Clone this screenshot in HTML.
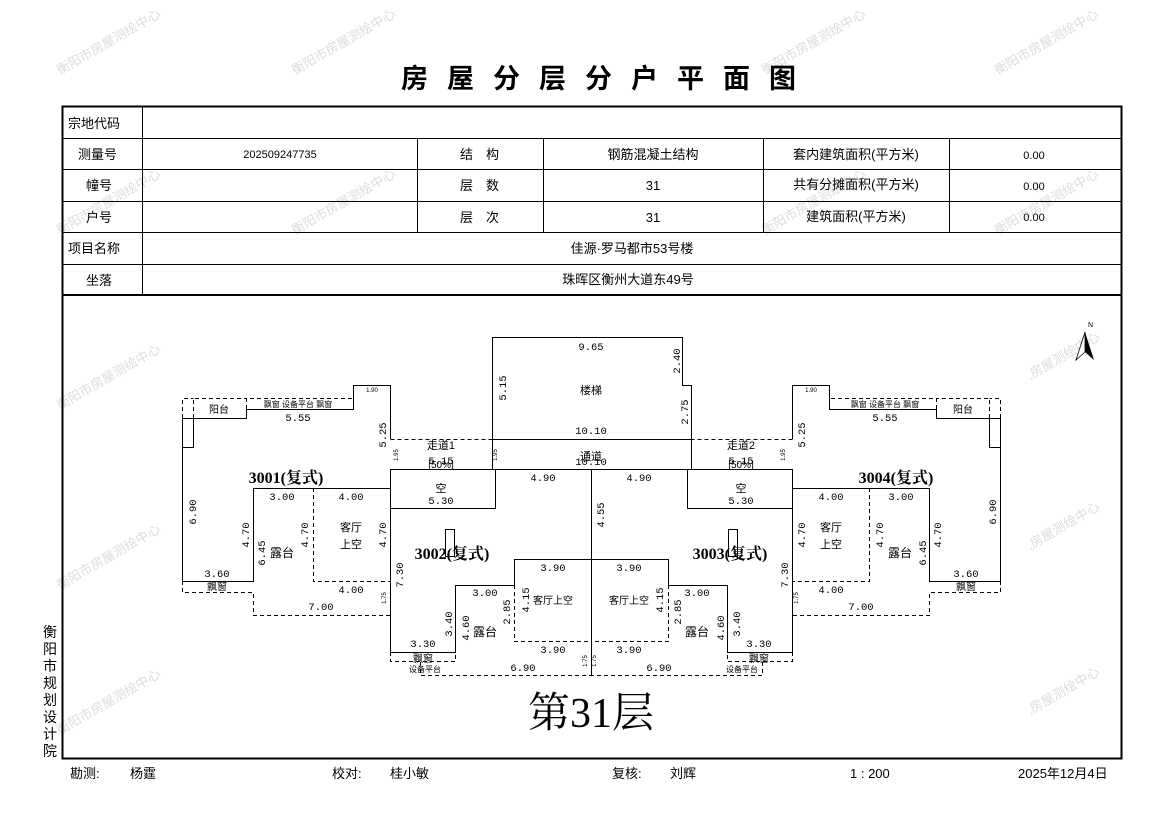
<!DOCTYPE html>
<html><head><meta charset="utf-8"><style>
html,body{margin:0;padding:0;background:#fff;}
svg{display:block;font-family:"Liberation Sans","WenQuanYi Zen Hei","Noto Sans CJK SC",sans-serif;}
.t{font-size:13px;fill:#000;}
.s{font-size:11px;fill:#000;}
.d{font-size:10.5px;fill:#000;font-family:"Liberation Mono","WenQuanYi Zen Hei",monospace;}
.tiny{font-size:6px;fill:#000;}
.wm{font-size:13px;fill:#dcdcdc;}
.u{font-size:16px;font-weight:bold;fill:#000;font-family:"Liberation Serif","Noto Serif CJK SC",serif;}
</style></head><body>
<svg width="1169" height="827" viewBox="0 0 1169 827" xmlns="http://www.w3.org/2000/svg">
<g class="wm">
<text transform="translate(60,75) rotate(-30)">衡阳市房屋测绘中心</text>
<text transform="translate(295,75) rotate(-30)">衡阳市房屋测绘中心</text>
<text transform="translate(765,75) rotate(-30)">衡阳市房屋测绘中心</text>
<text transform="translate(998,75) rotate(-30)">衡阳市房屋测绘中心</text>
<text transform="translate(60,235) rotate(-30)">衡阳市房屋测绘中心</text>
<text transform="translate(295,235) rotate(-30)">衡阳市房屋测绘中心</text>
<text transform="translate(765,235) rotate(-30)">衡阳市房屋测绘中心</text>
<text transform="translate(998,235) rotate(-30)">衡阳市房屋测绘中心</text>
<text transform="translate(60,410) rotate(-30)">衡阳市房屋测绘中心</text>
<text transform="translate(1030,380) rotate(-30)">,房屋测绘中心</text>
<text transform="translate(60,590) rotate(-30)">衡阳市房屋测绘中心</text>
<text transform="translate(1030,550) rotate(-30)">,房屋测绘中心</text>
<text transform="translate(60,735) rotate(-30)">衡阳市房屋测绘中心</text>
<text transform="translate(1030,715) rotate(-30)">,房屋测绘中心</text>
</g>
<text x="608" y="88" text-anchor="middle" style="font-size:27px;font-weight:bold;letter-spacing:19px;font-family:'WenQuanYi Zen Hei','Noto Sans CJK SC',sans-serif">房屋分层分户平面图</text>
<rect x="62.5" y="106.5" width="1059" height="652" fill="none" stroke="#000" stroke-width="2"/>
<g stroke="#000" stroke-width="1">
<line x1="62" y1="138.5" x2="1121" y2="138.5"/>
<line x1="62" y1="169.5" x2="1121" y2="169.5"/>
<line x1="62" y1="201.5" x2="1121" y2="201.5"/>
<line x1="62" y1="232.5" x2="1121" y2="232.5"/>
<line x1="62" y1="264.5" x2="1121" y2="264.5"/>
<line x1="142.5" y1="106" x2="142.5" y2="295"/>
<line x1="417.5" y1="138" x2="417.5" y2="232"/>
<line x1="543.5" y1="138" x2="543.5" y2="232"/>
<line x1="763.5" y1="138" x2="763.5" y2="232"/>
<line x1="949.5" y1="138" x2="949.5" y2="232"/>
</g>
<line x1="62" y1="295" x2="1121" y2="295" stroke="#000" stroke-width="2"/>
<g class="t">
<text x="68" y="128">宗地代码</text>
<text x="78" y="159">测量号</text>
<text x="86" y="190">幢号</text>
<text x="86" y="222">户号</text>
<text x="68" y="253">项目名称</text>
<text x="86" y="285">坐落</text>
<text x="460" y="159">结　构</text>
<text x="460" y="190">层　数</text>
<text x="460" y="222">层　次</text>
<text x="653" y="159" text-anchor="middle">钢筋混凝土结构</text>
<text x="653" y="190" text-anchor="middle">31</text>
<text x="653" y="222" text-anchor="middle">31</text>
<text x="856" y="159" text-anchor="middle">套内建筑面积(平方米)</text>
<text x="856" y="189" text-anchor="middle">共有分摊面积(平方米)</text>
<text x="856" y="221" text-anchor="middle">建筑面积(平方米)</text>
<text x="632" y="253" text-anchor="middle">佳源·罗马都市53号楼</text>
<text x="628" y="284" text-anchor="middle">珠晖区衡州大道东49号</text>
</g>
<g class="s">
<text x="280" y="158" text-anchor="middle">202509247735</text>
<text x="1034" y="159" text-anchor="middle">0.00</text>
<text x="1034" y="190" text-anchor="middle">0.00</text>
<text x="1034" y="221" text-anchor="middle">0.00</text>
</g>
<defs>
<g id="half" fill="none" stroke="#000" stroke-width="1">
  <polyline points="390.5,439 390.5,385.5 353.5,385.5 353.5,409.5 246.5,409.5 246.5,418.5 193.5,418.5 193.5,447.5 182.5,447.5 182.5,581.5 253.5,581.5 253.5,488.5 390.5,488.5"/>
  <polyline points="390.5,488 390.5,652.5 455.5,652.5 455.5,585.5 514.5,585.5 514.5,559.5 591.5,559.5"/>
  <rect x="390.5" y="469.5" width="105" height="39"/>
  <rect x="445.5" y="529.5" width="9" height="27"/>
  <rect x="182.5" y="418.5" width="11" height="29"/>
  <g stroke-dasharray="4,3">
    <polyline points="246.5,409 246.5,398.5 353.5,398.5"/>
    <polyline points="193.5,418 193.5,398.5 246.5,398.5"/>
    <polyline points="182.5,418 182.5,398.5 193.5,398.5"/>
    <polyline points="182.5,581 182.5,592.5 253.5,592.5 253.5,615.5 390.5,615.5"/>
    <polyline points="313.5,488 313.5,581.5 390.5,581.5"/>
    <polyline points="390.5,652 390.5,661.5 455.5,661.5 455.5,652"/>
    <polyline points="514.5,585 514.5,641.5 591.5,641.5"/>
    <polyline points="420.5,662 420.5,675.5 591.5,675.5"/>
    <line x1="390.5" y1="439.5" x2="492" y2="439.5"/>
    <line x1="390.5" y1="469.5" x2="492" y2="469.5"/>
    <line x1="353.5" y1="385" x2="353.5" y2="398"/>
  </g>
</g>
</defs>
<use href="#half"/>
<use href="#half" transform="matrix(-1,0,0,1,1183,0)"/>
<g fill="none" stroke="#000" stroke-width="1">
  <polyline points="492.5,469.5 492.5,337.5 682.5,337.5 682.5,385.5 691.5,385.5 691.5,469.5"/>
  <line x1="492" y1="439.5" x2="691" y2="439.5"/>
  <line x1="492" y1="469.5" x2="691" y2="469.5"/>
  <line x1="591.5" y1="469" x2="591.5" y2="676"/>
</g>
<g class="d" text-anchor="middle">
<text x="591" y="350">9.65</text>
<text x="591" y="434">10.10</text>
<text x="591" y="465">10.10</text>
<text x="543" y="481">4.90</text>
<text x="639" y="481">4.90</text>
<text x="441" y="464">5.15</text>
<text x="741" y="464">5.15</text>
<text x="441" y="504">5.30</text>
<text x="741" y="504">5.30</text>
<text transform="translate(506,388) rotate(-90)">5.15</text>
<text transform="translate(680,361) rotate(-90)">2.40</text>
<text transform="translate(688,412) rotate(-90)">2.75</text>
<text transform="translate(604,515) rotate(-90)">4.55</text>
<text x="298" y="421">5.55</text>
<text transform="translate(386,435) rotate(-90)">5.25</text>
<text transform="translate(196,512) rotate(-90)">6.90</text>
<text transform="translate(249,535) rotate(-90)">4.70</text>
<text transform="translate(265,553) rotate(-90)">6.45</text>
<text transform="translate(308,535) rotate(-90)">4.70</text>
<text transform="translate(386,535) rotate(-90)">4.70</text>
<text x="282" y="500">3.00</text>
<text x="351" y="500">4.00</text>
<text x="217" y="577">3.60</text>
<text x="351" y="593">4.00</text>
<text x="321" y="610">7.00</text>
<text transform="translate(403,575) rotate(-90)">7.30</text>
<text transform="translate(452,624) rotate(-90)">3.40</text>
<text transform="translate(469,628) rotate(-90)">4.60</text>
<text transform="translate(510,612) rotate(-90)">2.85</text>
<text transform="translate(529,600) rotate(-90)">4.15</text>
<text x="485" y="596">3.00</text>
<text x="553" y="571">3.90</text>
<text x="553" y="653">3.90</text>
<text x="523" y="671">6.90</text>
<text x="423" y="647">3.30</text>
<text x="885" y="421">5.55</text>
<text transform="translate(805,435) rotate(-90)">5.25</text>
<text transform="translate(996,512) rotate(-90)">6.90</text>
<text transform="translate(941,535) rotate(-90)">4.70</text>
<text transform="translate(926,553) rotate(-90)">6.45</text>
<text transform="translate(883,535) rotate(-90)">4.70</text>
<text transform="translate(805,535) rotate(-90)">4.70</text>
<text x="901" y="500">3.00</text>
<text x="831" y="500">4.00</text>
<text x="966" y="577">3.60</text>
<text x="831" y="593">4.00</text>
<text x="861" y="610">7.00</text>
<text transform="translate(788,575) rotate(-90)">7.30</text>
<text transform="translate(740,624) rotate(-90)">3.40</text>
<text transform="translate(724,628) rotate(-90)">4.60</text>
<text transform="translate(681,612) rotate(-90)">2.85</text>
<text transform="translate(663,600) rotate(-90)">4.15</text>
<text x="697" y="596">3.00</text>
<text x="629" y="571">3.90</text>
<text x="629" y="653">3.90</text>
<text x="659" y="671">6.90</text>
<text x="759" y="647">3.30</text>
</g>
<g class="tiny" text-anchor="middle">
<text x="372" y="392">1.90</text><text x="811" y="392">1.90</text>
<text transform="translate(497,455) rotate(-90)">1.95</text>
<text transform="translate(398,455) rotate(-90)">1.95</text>
<text transform="translate(785,455) rotate(-90)">1.95</text>
<text transform="translate(386,598) rotate(-90)">1.75</text>
<text transform="translate(798,598) rotate(-90)">1.75</text>
<text transform="translate(587,661) rotate(-90)">1.75</text>
<text transform="translate(596,661) rotate(-90)">1.75</text>
</g>
<g class="s" text-anchor="middle">
<text x="591" y="394">楼梯</text>
<text x="591" y="460">通道</text>
<text x="441" y="449">走道1</text>
<text x="741" y="449">走道2</text>
<text x="441" y="468" style="font-size:10px">[50%]</text>
<text x="741" y="468" style="font-size:10px">[50%]</text>
<text x="441" y="492">空</text>
<text x="741" y="492">空</text>
<text x="351" y="531">客厅</text><text x="351" y="548">上空</text>
<text x="831" y="531">客厅</text><text x="831" y="548">上空</text>
<text x="282" y="557" style="font-size:12px">露台</text>
<text x="900" y="557" style="font-size:12px">露台</text>
<text x="485" y="636" style="font-size:12px">露台</text>
<text x="697" y="636" style="font-size:12px">露台</text>
<text x="553" y="604" style="font-size:10px">客厅上空</text>
<text x="629" y="604" style="font-size:10px">客厅上空</text>
<text x="219" y="413" style="font-size:10px">阳台</text>
<text x="963" y="413" style="font-size:10px">阳台</text>
<text x="298" y="407" style="font-size:8px">飘窗 设备平台 飘窗</text>
<text x="885" y="407" style="font-size:8px">飘窗 设备平台 飘窗</text>
<text x="217" y="590" style="font-size:10px">飘窗</text>
<text x="966" y="590" style="font-size:10px">飘窗</text>
<text x="423" y="662" style="font-size:10px">飘窗</text>
<text x="759" y="662" style="font-size:10px">飘窗</text>
<text x="425" y="672" style="font-size:8px">设备平台</text>
<text x="742" y="672" style="font-size:8px">设备平台</text>
</g>
<g class="u" text-anchor="middle">
<text x="286" y="483">3001(复式)</text>
<text x="452" y="559">3002(复式)</text>
<text x="730" y="559">3003(复式)</text>
<text x="896" y="483">3004(复式)</text>
</g>
<g>
<polygon points="1085,332 1076,360 1085,352" fill="#fff" stroke="#000" stroke-width="0.8"/>
<polygon points="1085,332 1094,360 1085,352" fill="#000"/>
<text x="1088" y="327" style="font-size:7px">N</text>
</g>
<text x="591" y="727" text-anchor="middle" style="font-size:42px;font-family:'Liberation Serif','Noto Serif CJK SC',serif">第31层</text>
<g class="t" text-anchor="middle" style="font-size:14px">
<text x="50" y="637">衡</text><text x="50" y="654">阳</text><text x="50" y="671">市</text><text x="50" y="688">规</text><text x="50" y="705">划</text><text x="50" y="722">设</text><text x="50" y="739">计</text><text x="50" y="756">院</text>
</g>
<g class="t">
<text x="70" y="778">勘测:</text><text x="130" y="778">杨霆</text>
<text x="332" y="778">校对:</text><text x="390" y="778">桂小敏</text>
<text x="612" y="778">复核:</text><text x="670" y="778">刘辉</text>
<text x="850" y="778">1 : 200</text>
<text x="1018" y="778">2025年12月4日</text>
</g>
</svg>
</body></html>
